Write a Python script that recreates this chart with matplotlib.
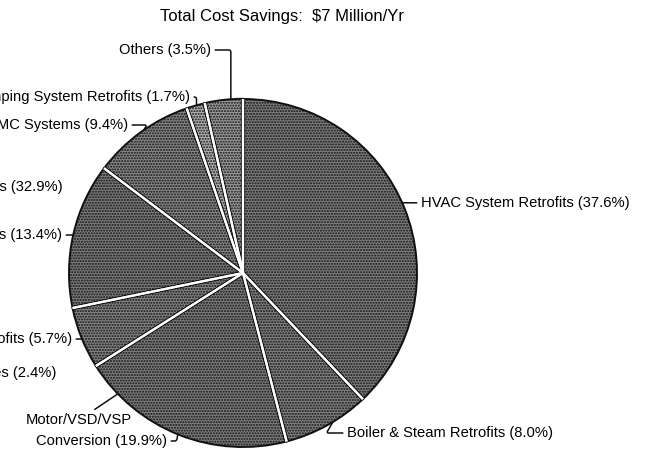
import numpy as np
import matplotlib.pyplot as plt

plt.rcParams["font.family"] = ["Liberation Sans", "DejaVu Sans"]
plt.rcParams["hatch.linewidth"] = 1.0

W, H = 653, 466   # canvas in pixels; axes use pixel units (y up)

title = "Total Cost Savings:  \\$7 Million/Yr"

# slices, clockwise from 12 o'clock
slice_names = ["HVAC System Retrofits", "Boiler & Steam Retrofits",
               "Motor/VSD/VSP", "Building Envelope Retrofits",
               "Energy Management Systems", "EMC Systems",
               "Pumping System Retrofits", "Others"]
slice_pct = [37.6, 8.0, 19.9, 5.7, 13.4, 9.4, 1.7, 3.5]
slice_explode = [0, 0, 0, 0, 0, 0, 0, 0.2]
slice_fill = ["#7e7e7e", "#828282", "#7e7e7e", "#858585",
              "#7c7c7c", "#888888", "#b4b4b4", "#9c9c9c"]

# percentages printed on the sheet without a visible slice
extra_names = ["Lighting Systems", "Water Conservation Measures"]
extra_pct = [32.9, 2.4]

fig = plt.figure(figsize=(W / 100, H / 100), dpi=100)
ax = fig.add_axes([0, 0, 1, 1])

cx, cy, R = 243, H - 273, 174
wedges, _ = ax.pie(slice_pct, explode=slice_explode, colors=slice_fill,
                   startangle=90, counterclock=False, center=(cx, cy),
                   radius=R, hatch="......", frame=True,
                   wedgeprops=dict(edgecolor="#111111", linewidth=1.4))
ax.set_xlim(0, W)
ax.set_ylim(0, H)
ax.axis("off")

# white seams between slices
for w in wedges:
    for th in (w.theta1, w.theta2):
        t = np.deg2rad(th)
        x0, y0 = w.center
        xs = [x0, x0 + w.r * np.cos(t)]
        ys = [y0, y0 + w.r * np.sin(t)]
        ax.plot(xs, ys, color="#111111", lw=3.0, solid_capstyle="butt", zorder=3)
        ax.plot(xs, ys, color="white", lw=1.6, solid_capstyle="butt", zorder=4)

ax.text(282, H - 17, title, ha="center", va="center", fontsize=12)

FS = 10.6

def label(i, txt, ang, tx, ty, ha, conn="arc3"):
    w = wedges[i]
    t = np.deg2rad(ang)
    x0, y0 = w.center
    xy = (x0 + w.r * np.cos(t), y0 + w.r * np.sin(t))
    ax.annotate(txt, xy=xy, xytext=(tx, H - ty), ha=ha, va="center",
                fontsize=FS, zorder=6,
                arrowprops=dict(arrowstyle="-", color="#111111", lw=1.1,
                                shrinkA=1, shrinkB=0, connectionstyle=conn))

fmt = lambda n, p: f"{n} ({p}%)"
label(0, fmt(slice_names[0], slice_pct[0]), 23.8, 421, 203, "left")
label(1, fmt(slice_names[1], slice_pct[1]), -58.9, 347, 433, "left",
      "angle,angleA=0,angleB=60,rad=2")
label(2, slice_names[2], -136, 26, 420, "left")
label(2, f"Conversion ({slice_pct[2]}%)", -112, 36, 441, "left",
      "angle,angleA=0,angleB=80,rad=2")
label(3, fmt(slice_names[3], slice_pct[3]), 202.3, 72, 339, "right")
label(4, fmt(slice_names[4], slice_pct[4]), 167.4, 62, 235, "right")
label(5, fmt(slice_names[5], slice_pct[5]), 124.7, 128, 125, "right",
      "angle,angleA=0,angleB=60,rad=2")
label(6, fmt(slice_names[6], slice_pct[6]), 105.5, 190, 97, "right",
      "angle,angleA=0,angleB=90,rad=2")
label(7, fmt(slice_names[7], slice_pct[7]), 94.0, 211, 50, "right",
      "angle,angleA=0,angleB=90,rad=2")

ax.text(63, H - 187, fmt(extra_names[0], extra_pct[0]), ha="right",
        va="center", fontsize=FS)
ax.text(56, H - 373, fmt(extra_names[1], extra_pct[1]), ha="right",
        va="center", fontsize=FS)

fig.savefig("out.png", dpi=100)
